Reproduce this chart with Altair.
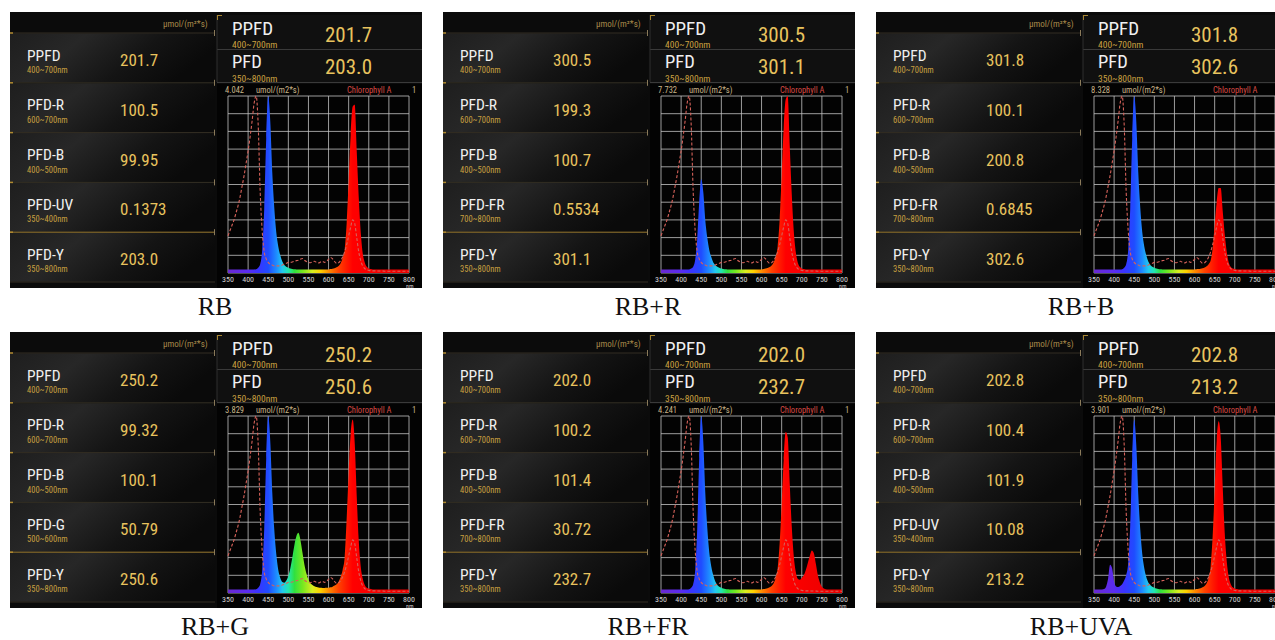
import altair as alt
import pandas as pd

W, H = 1275, 640

# ------------------------------------------------------------------ data
WAVELENGTH = list(range(350, 801, 5))
TICKS = [350, 400, 450, 500, 550, 600, 650, 700, 750, 800]
GRID_LEVELS = [0.0, 0.1, 0.2, 0.3, 0.4, 0.5, 0.6, 0.7, 0.8, 0.9, 1.0]

# Chlorophyll A reference curve (relative, 0..1)
CHLOROPHYLL_A = [
    0.21, 0.24, 0.27, 0.30, 0.34, 0.38, 0.43, 0.49, 0.55, 0.62,
    0.69, 0.77, 0.86, 0.96, 1.00, 0.84, 0.46, 0.24, 0.12, 0.08,
    0.06, 0.05, 0.045, 0.04, 0.04, 0.04, 0.04, 0.045, 0.05, 0.055,
    0.06, 0.06, 0.062, 0.066, 0.07, 0.072, 0.078, 0.082, 0.072, 0.065,
    0.06, 0.058, 0.062, 0.066, 0.06, 0.057, 0.062, 0.066, 0.06, 0.066,
    0.078, 0.088, 0.08, 0.065, 0.055, 0.058, 0.07, 0.09, 0.12, 0.16,
    0.21, 0.26, 0.30, 0.28, 0.20, 0.12, 0.07, 0.04, 0.025, 0.018,
    0.015, 0.013, 0.012, 0.012, 0.012, 0.011, 0.011, 0.011, 0.01, 0.01,
    0.01, 0.01, 0.01, 0.01, 0.01, 0.01, 0.01, 0.01, 0.01, 0.01,
    0.01,
]

# relative spectra (fraction of each panel's full scale)
SPEC_RB = [
    0.02, 0.02, 0.02, 0.02, 0.02, 0.02, 0.02, 0.02, 0.02, 0.02,
    0.02, 0.02, 0.02, 0.02, 0.021, 0.03, 0.05, 0.13, 0.36, 0.76,
    1.0, 0.86, 0.57, 0.37, 0.23, 0.15, 0.1, 0.065, 0.045, 0.035,
    0.03, 0.026, 0.023, 0.021, 0.02, 0.02, 0.02, 0.02, 0.02, 0.02,
    0.02, 0.02, 0.02, 0.02, 0.02, 0.02, 0.02, 0.02, 0.02, 0.02,
    0.02, 0.022, 0.024, 0.027, 0.032, 0.04, 0.055, 0.085, 0.13, 0.28,
    0.52, 0.78, 0.94, 0.95, 0.69, 0.43, 0.23, 0.11, 0.06, 0.035,
    0.026, 0.022, 0.02, 0.02, 0.02, 0.02, 0.02, 0.02, 0.02, 0.02,
    0.02, 0.02, 0.02, 0.02, 0.02, 0.02, 0.02, 0.02, 0.02, 0.02,
    0.02,
]
SPEC_RB_R = [
    0.02, 0.02, 0.02, 0.02, 0.02, 0.02, 0.02, 0.02, 0.02, 0.02,
    0.02, 0.02, 0.02, 0.02, 0.02, 0.025, 0.035, 0.075, 0.19, 0.40,
    0.53, 0.46, 0.30, 0.20, 0.13, 0.09, 0.06, 0.045, 0.035, 0.03,
    0.026, 0.023, 0.021, 0.02, 0.02, 0.02, 0.02, 0.02, 0.02, 0.02,
    0.02, 0.02, 0.02, 0.02, 0.02, 0.02, 0.02, 0.02, 0.02, 0.02,
    0.02, 0.022, 0.025, 0.028, 0.034, 0.043, 0.06, 0.09, 0.15, 0.30,
    0.55, 0.82, 0.98, 1.0, 0.72, 0.45, 0.24, 0.12, 0.06, 0.035,
    0.026, 0.022, 0.02, 0.02, 0.02, 0.02, 0.02, 0.02, 0.02, 0.02,
    0.02, 0.02, 0.02, 0.02, 0.02, 0.02, 0.02, 0.02, 0.02, 0.02,
    0.02,
]
SPEC_RB_B = [
    0.02, 0.02, 0.02, 0.02, 0.02, 0.02, 0.02, 0.02, 0.02, 0.02,
    0.02, 0.02, 0.02, 0.02, 0.021, 0.03, 0.05, 0.13, 0.36, 0.76,
    1.0, 0.86, 0.57, 0.37, 0.23, 0.15, 0.1, 0.065, 0.045, 0.035,
    0.03, 0.026, 0.023, 0.021, 0.02, 0.02, 0.02, 0.02, 0.02, 0.02,
    0.02, 0.02, 0.02, 0.02, 0.02, 0.02, 0.02, 0.02, 0.02, 0.02,
    0.02, 0.021, 0.022, 0.024, 0.027, 0.031, 0.038, 0.05, 0.07, 0.14,
    0.27, 0.40, 0.48, 0.48, 0.35, 0.22, 0.12, 0.06, 0.035, 0.025,
    0.022, 0.02, 0.02, 0.02, 0.02, 0.02, 0.02, 0.02, 0.02, 0.02,
    0.02, 0.02, 0.02, 0.02, 0.02, 0.02, 0.02, 0.02, 0.02, 0.02,
    0.02,
]
SPEC_RB_G = [
    0.02, 0.02, 0.02, 0.02, 0.02, 0.02, 0.02, 0.02, 0.02, 0.02,
    0.02, 0.02, 0.02, 0.02, 0.021, 0.03, 0.05, 0.13, 0.36, 0.76,
    1.0, 0.86, 0.57, 0.36, 0.22, 0.13, 0.085, 0.062, 0.058, 0.07,
    0.095, 0.14, 0.2, 0.27, 0.32, 0.34, 0.3, 0.23, 0.16, 0.11,
    0.075, 0.055, 0.045, 0.038, 0.034, 0.031, 0.029, 0.028, 0.028, 0.029,
    0.03, 0.032, 0.036, 0.042, 0.05, 0.064, 0.09, 0.13, 0.2, 0.42,
    0.68, 0.9, 0.98, 0.85, 0.55, 0.3, 0.15, 0.08, 0.045, 0.03,
    0.025, 0.022, 0.02, 0.02, 0.02, 0.02, 0.02, 0.02, 0.02, 0.02,
    0.02, 0.02, 0.02, 0.02, 0.02, 0.02, 0.02, 0.02, 0.02, 0.02,
    0.02,
]
SPEC_RB_FR = [
    0.02, 0.02, 0.02, 0.02, 0.02, 0.02, 0.02, 0.02, 0.02, 0.02,
    0.02, 0.02, 0.02, 0.02, 0.021, 0.03, 0.05, 0.13, 0.36, 0.76,
    1.0, 0.86, 0.57, 0.37, 0.23, 0.15, 0.1, 0.065, 0.045, 0.035,
    0.03, 0.026, 0.023, 0.021, 0.02, 0.02, 0.02, 0.02, 0.02, 0.02,
    0.02, 0.02, 0.02, 0.02, 0.02, 0.02, 0.02, 0.02, 0.02, 0.02,
    0.02, 0.022, 0.024, 0.027, 0.032, 0.04, 0.055, 0.085, 0.14, 0.28,
    0.5, 0.75, 0.91, 0.88, 0.62, 0.38, 0.21, 0.12, 0.08, 0.075,
    0.085, 0.1, 0.13, 0.17, 0.21, 0.24, 0.225, 0.165, 0.1, 0.06,
    0.035, 0.025, 0.021, 0.02, 0.02, 0.02, 0.02, 0.02, 0.02, 0.02,
    0.02,
]
SPEC_RB_UVA = [
    0.02, 0.02, 0.02, 0.02, 0.02, 0.022, 0.035, 0.08, 0.16, 0.14,
    0.065, 0.037, 0.034, 0.04, 0.05, 0.07, 0.1, 0.17, 0.38, 0.76,
    0.98, 0.84, 0.56, 0.36, 0.22, 0.14, 0.09, 0.06, 0.045, 0.035,
    0.03, 0.026, 0.023, 0.021, 0.02, 0.02, 0.02, 0.02, 0.02, 0.02,
    0.02, 0.02, 0.02, 0.02, 0.02, 0.02, 0.02, 0.02, 0.02, 0.02,
    0.02, 0.022, 0.024, 0.027, 0.032, 0.04, 0.055, 0.085, 0.15, 0.32,
    0.58, 0.86, 0.97, 0.88, 0.6, 0.34, 0.18, 0.09, 0.05, 0.032,
    0.026, 0.022, 0.02, 0.02, 0.02, 0.02, 0.02, 0.02, 0.02, 0.02,
    0.02, 0.02, 0.02, 0.02, 0.02, 0.02, 0.02, 0.02, 0.02, 0.02,
    0.02,
]

PANEL_NAMES = ["RB", "RB+R", "RB+B", "RB+G", "RB+FR", "RB+UVA"]
SCALE_MAX = ["4.042", "7.732", "8.328", "3.829", "4.241", "3.901"]
ROW_NAMES = [
    ["PPFD", "PFD-R", "PFD-B", "PFD-UV", "PFD-Y"],
    ["PPFD", "PFD-R", "PFD-B", "PFD-FR", "PFD-Y"],
    ["PPFD", "PFD-R", "PFD-B", "PFD-FR", "PFD-Y"],
    ["PPFD", "PFD-R", "PFD-B", "PFD-G", "PFD-Y"],
    ["PPFD", "PFD-R", "PFD-B", "PFD-FR", "PFD-Y"],
    ["PPFD", "PFD-R", "PFD-B", "PFD-UV", "PFD-Y"],
]
ROW_VALUES = [
    ["201.7", "100.5", "99.95", "0.1373", "203.0"],
    ["300.5", "199.3", "100.7", "0.5534", "301.1"],
    ["301.8", "100.1", "200.8", "0.6845", "302.6"],
    ["250.2", "99.32", "100.1", "50.79", "250.6"],
    ["202.0", "100.2", "101.4", "30.72", "232.7"],
    ["202.8", "100.4", "101.9", "10.08", "213.2"],
]
BAND_NAMES = ["PPFD", "PFD-R", "PFD-B", "PFD-UV", "PFD-FR", "PFD-G", "PFD-Y", "PFD"]
BAND_RANGES = ["400~700nm", "600~700nm", "400~500nm", "350~400nm",
               "700~800nm", "500~600nm", "350~800nm", "350~800nm"]
TOP_PPFD = ["201.7", "300.5", "301.8", "250.2", "202.0", "202.8"]
TOP_PFD = ["203.0", "301.1", "302.6", "250.6", "232.7", "213.2"]

SPECTRA = [SPEC_RB, SPEC_RB_R, SPEC_RB_B, SPEC_RB_G, SPEC_RB_FR, SPEC_RB_UVA]
BAND_OF = dict(zip(BAND_NAMES, BAND_RANGES))

# ------------------------------------------------------------------ layout / style
PANEL_LEFT = [10, 443, 876]
PANEL_TOP = [12, 332]
PW, PH = 412, 276
TABLE_W = 205
ROW_TOP0, ROW_H = 21, 49.8
PLOT_L, PLOT_R, PLOT_T, PLOT_B = 218, 399, 84, 261

UI_FONT = "Roboto Condensed, Liberation Sans Narrow, Noto Sans, sans-serif"
SERIF = "Liberation Serif, Times New Roman, serif"
WHITE = "#f0f0f0"
GOLD = "#e8c35e"
GOLD_DIM = "#c9a040"
GRID = "#c4c4c4"
CHL_COLOR = "#d6625a"

SPECTRUM_STOPS = [
    (0.0, "#6a2ad0"), (0.111, "#5a2cf0"), (0.167, "#3a34ff"), (0.222, "#1f4cff"),
    (0.267, "#1e8cff"), (0.3, "#22c8f0"), (0.333, "#22e6b0"), (0.367, "#30e040"),
    (0.411, "#74e820"), (0.467, "#d8ee20"), (0.511, "#ffd000"), (0.556, "#ff8c00"),
    (0.611, "#ff4200"), (0.656, "#ff1a00"), (0.689, "#ff0000"), (1.0, "#e80000"),
]
SPEC_GRAD = alt.Gradient(
    gradient="linear", x1=0, x2=1, y1=0, y2=0,
    stops=[alt.GradientStop(offset=o, color=c) for o, c in SPECTRUM_STOPS],
)
ROW_GRAD = alt.Gradient(
    gradient="linear", x1=0, x2=1, y1=0, y2=0.3,
    stops=[alt.GradientStop(offset=0, color="#1e1e1e"),
           alt.GradientStop(offset=0.35, color="#272727"),
           alt.GradientStop(offset=0.7, color="#141414"),
           alt.GradientStop(offset=1, color="#0a0a0a")],
)


def px_x(field):
    return alt.X(f"{field}:Q", scale=alt.Scale(domain=[0, W], range=[0, W], nice=False, zero=False), axis=None)


def px_y(field):
    return alt.Y(f"{field}:Q", scale=alt.Scale(domain=[0, H], range=[0, H], nice=False, zero=False), axis=None)


# ------------------------------------------------------------------ build layout tables
plain_rects, grad_rects, rules, ui_text, captions = [], [], [], [], []

for i, name in enumerate(PANEL_NAMES):
    ox, oy = PANEL_LEFT[i % 3], PANEL_TOP[i // 3]
    plain_rects.append(dict(x=ox, xe=ox + PW, y=oy, ye=oy + PH, fill="#0b0b0b"))
    plain_rects.append(dict(x=ox + 207, xe=ox + PW, y=oy + 3, ye=oy + 37, fill="#101010"))
    plain_rects.append(dict(x=ox + 207, xe=ox + PW, y=oy + 38, ye=oy + 70, fill="#101010"))
    plain_rects.append(dict(x=ox + 207, xe=ox + PW, y=oy + 72, ye=oy + PH, fill="#030303"))

    # right-top box lines
    rules.append(dict(x=ox + 207, xe=ox + PW, y=oy + 37.5, ye=oy + 37.5, c="#3a3a3a", w=1))
    rules.append(dict(x=ox + 207, xe=ox + PW, y=oy + 70.5, ye=oy + 70.5, c="#3a3a3a", w=1))
    rules.append(dict(x=ox + 207, xe=ox + 207, y=oy + 3, ye=oy + 70, c="#2e2e2e", w=1))
    rules.append(dict(x=ox + 207, xe=ox + 212, y=oy + 3.5, ye=oy + 3.5, c="#a88530", w=1))
    rules.append(dict(x=ox + 207.5, xe=ox + 207.5, y=oy + 3, ye=oy + 8, c="#a88530", w=1))

    names = ROW_NAMES[i]
    vals = ROW_VALUES[i]
    for r in range(5):
        top = oy + ROW_TOP0 + ROW_H * r
        grad_rects.append(dict(x=ox, xe=ox + TABLE_W, y=top + 0.5, ye=top + ROW_H - 0.5))
        sep_col = "#9a7a30" if r == 4 else "#342f24"
        rules.append(dict(x=ox, xe=ox + TABLE_W, y=top, ye=top, c=sep_col, w=1))
        rules.append(dict(x=ox, xe=ox + 3, y=top, ye=top, c="#b08a30", w=1.5))
        rules.append(dict(x=ox + TABLE_W - 0.5, xe=ox + TABLE_W - 0.5, y=top - 3, ye=top + 3, c="#8a7a5a", w=1))
        ui_text.append(dict(x=ox + 17, y=top + 27.5, t=names[r], fs=15.5, col=WHITE))
        ui_text.append(dict(x=ox + 17, y=top + 40, t=BAND_OF[names[r]], fs=8.5, col=GOLD_DIM))
        ui_text.append(dict(x=ox + 110, y=top + 33, t=vals[r], fs=17, col=GOLD))
    rules.append(dict(x=ox, xe=ox + TABLE_W, y=oy + ROW_TOP0 + ROW_H * 5, ye=oy + ROW_TOP0 + ROW_H * 5,
                      c="#342f24", w=1))
    ui_text.append(dict(x=ox + 153, y=oy + 15, t="\u03bcmol/(m\u00b2*s)", fs=9, col="#a88a4a"))

    # right-top summary boxes
    ui_text.append(dict(x=ox + 222, y=oy + 22.5, t="PPFD", fs=19, col=WHITE))
    ui_text.append(dict(x=ox + 222, y=oy + 36, t=BAND_OF["PPFD"], fs=9.5, col=GOLD_DIM))
    ui_text.append(dict(x=ox + 315, y=oy + 30, t=TOP_PPFD[i], fs=21, col=GOLD))
    ui_text.append(dict(x=ox + 222, y=oy + 55.5, t="PFD", fs=18.5, col=WHITE))
    ui_text.append(dict(x=ox + 222, y=oy + 69.5, t=BAND_OF["PFD"], fs=9.5, col=GOLD_DIM))
    ui_text.append(dict(x=ox + 315, y=oy + 62, t=TOP_PFD[i], fs=21, col=GOLD))

    # spectrum header
    ui_text.append(dict(x=ox + 215, y=oy + 81, t=SCALE_MAX[i], fs=8.5, col="#c8b488"))
    ui_text.append(dict(x=ox + 246, y=oy + 81, t="umol/(m2*s)", fs=8.5, col="#c8b488"))
    ui_text.append(dict(x=ox + 337, y=oy + 81, t="Chlorophyll  A", fs=8.5, col="#d84a44"))
    ui_text.append(dict(x=ox + 402, y=oy + 81, t="1", fs=8.5, col="#c8b488"))

    captions.append(dict(x=ox + 205, y=oy + 303, t=name))

plain_df = pd.DataFrame(plain_rects)
grad_df = pd.DataFrame(grad_rects)
rule_df = pd.DataFrame(rules)
text_df = pd.DataFrame(ui_text)
cap_df = pd.DataFrame(captions)

layers = []
layers.append(
    alt.Chart(plain_df).mark_rect().encode(
        x=px_x("x"), x2=alt.X2("xe"), y=px_y("y"), y2=alt.Y2("ye"),
        color=alt.Color("fill:N", scale=None))
)
layers.append(
    alt.Chart(grad_df).mark_rect(fill=ROW_GRAD).encode(
        x=px_x("x"), x2=alt.X2("xe"), y=px_y("y"), y2=alt.Y2("ye"))
)
layers.append(
    alt.Chart(rule_df).mark_rule().encode(
        x=px_x("x"), x2=alt.X2("xe"), y=px_y("y"), y2=alt.Y2("ye"),
        color=alt.Color("c:N", scale=None), size=alt.Size("w:Q", scale=None))
)
layers.append(
    alt.Chart(text_df).mark_text(align="left", baseline="alphabetic", font=UI_FONT).encode(
        x=px_x("x"), y=px_y("y"), text="t:N",
        size=alt.Size("fs:Q", scale=None), color=alt.Color("col:N", scale=None))
)

tick_df = pd.DataFrame({"t": TICKS, "lab": [str(t) for t in TICKS]})
level_df = pd.DataFrame({"g": GRID_LEVELS})

for i, spec in enumerate(SPECTRA):
    ox, oy = PANEL_LEFT[i % 3], PANEL_TOP[i // 3]
    xs = alt.Scale(domain=[350, 800], range=[ox + PLOT_L, ox + PLOT_R], nice=False, zero=False)
    ys = alt.Scale(domain=[0, 1], range=[oy + PLOT_B, oy + PLOT_T], nice=False, zero=False)
    sdf = pd.DataFrame({"wl": WAVELENGTH, "v": spec, "chl": CHLOROPHYLL_A})

    layers.append(
        alt.Chart(tick_df).mark_rule(color=GRID, strokeWidth=0.8).encode(
            x=alt.X("t:Q", scale=xs, axis=None),
            y=alt.value(oy + PLOT_T), y2=alt.value(oy + PLOT_B))
    )
    layers.append(
        alt.Chart(level_df).mark_rule(color=GRID, strokeWidth=0.8).encode(
            y=alt.Y("g:Q", scale=ys, axis=None),
            x=alt.value(ox + PLOT_L), x2=alt.value(ox + PLOT_R))
    )
    layers.append(
        alt.Chart(sdf).mark_area(color=SPEC_GRAD, interpolate="monotone").encode(
            x=alt.X("wl:Q", scale=xs, axis=None),
            y=alt.Y("v:Q", scale=ys, axis=None))
    )
    layers.append(
        alt.Chart(sdf).mark_line(color=CHL_COLOR, strokeDash=[3, 2], strokeWidth=1.1,
                                 interpolate="monotone").encode(
            x=alt.X("wl:Q", scale=xs, axis=None),
            y=alt.Y("chl:Q", scale=ys, axis=None))
    )
    layers.append(
        alt.Chart(tick_df).mark_text(align="center", baseline="alphabetic", font=UI_FONT,
                                     fontSize=8, color="#d4d4d4").encode(
            x=alt.X("t:Q", scale=xs, axis=None),
            y=alt.value(oy + 270), text="lab:N")
    )
    layers.append(
        alt.Chart(pd.DataFrame({"t": [800], "lab": ["nm"]})).mark_text(
            align="left", baseline="alphabetic", font=UI_FONT, fontSize=6,
            color="#d4d4d4", dx=-3).encode(
            x=alt.X("t:Q", scale=xs, axis=None),
            y=alt.value(oy + 276), text="lab:N")
    )

layers.append(
    alt.Chart(cap_df).mark_text(align="center", baseline="alphabetic", font=SERIF,
                                fontSize=26, color="#111111").encode(
        x=px_x("x"), y=px_y("y"), text="t:N")
)

chart = (
    alt.layer(*layers)
    .resolve_scale(x="independent", y="independent")
    .properties(width=W, height=H, padding=0, background="white",
                autosize=alt.AutoSizeParams(type="none"))
    .configure_view(stroke=None)
)

chart.save("out.html", embed_options={"renderer": "svg", "actions": False})
